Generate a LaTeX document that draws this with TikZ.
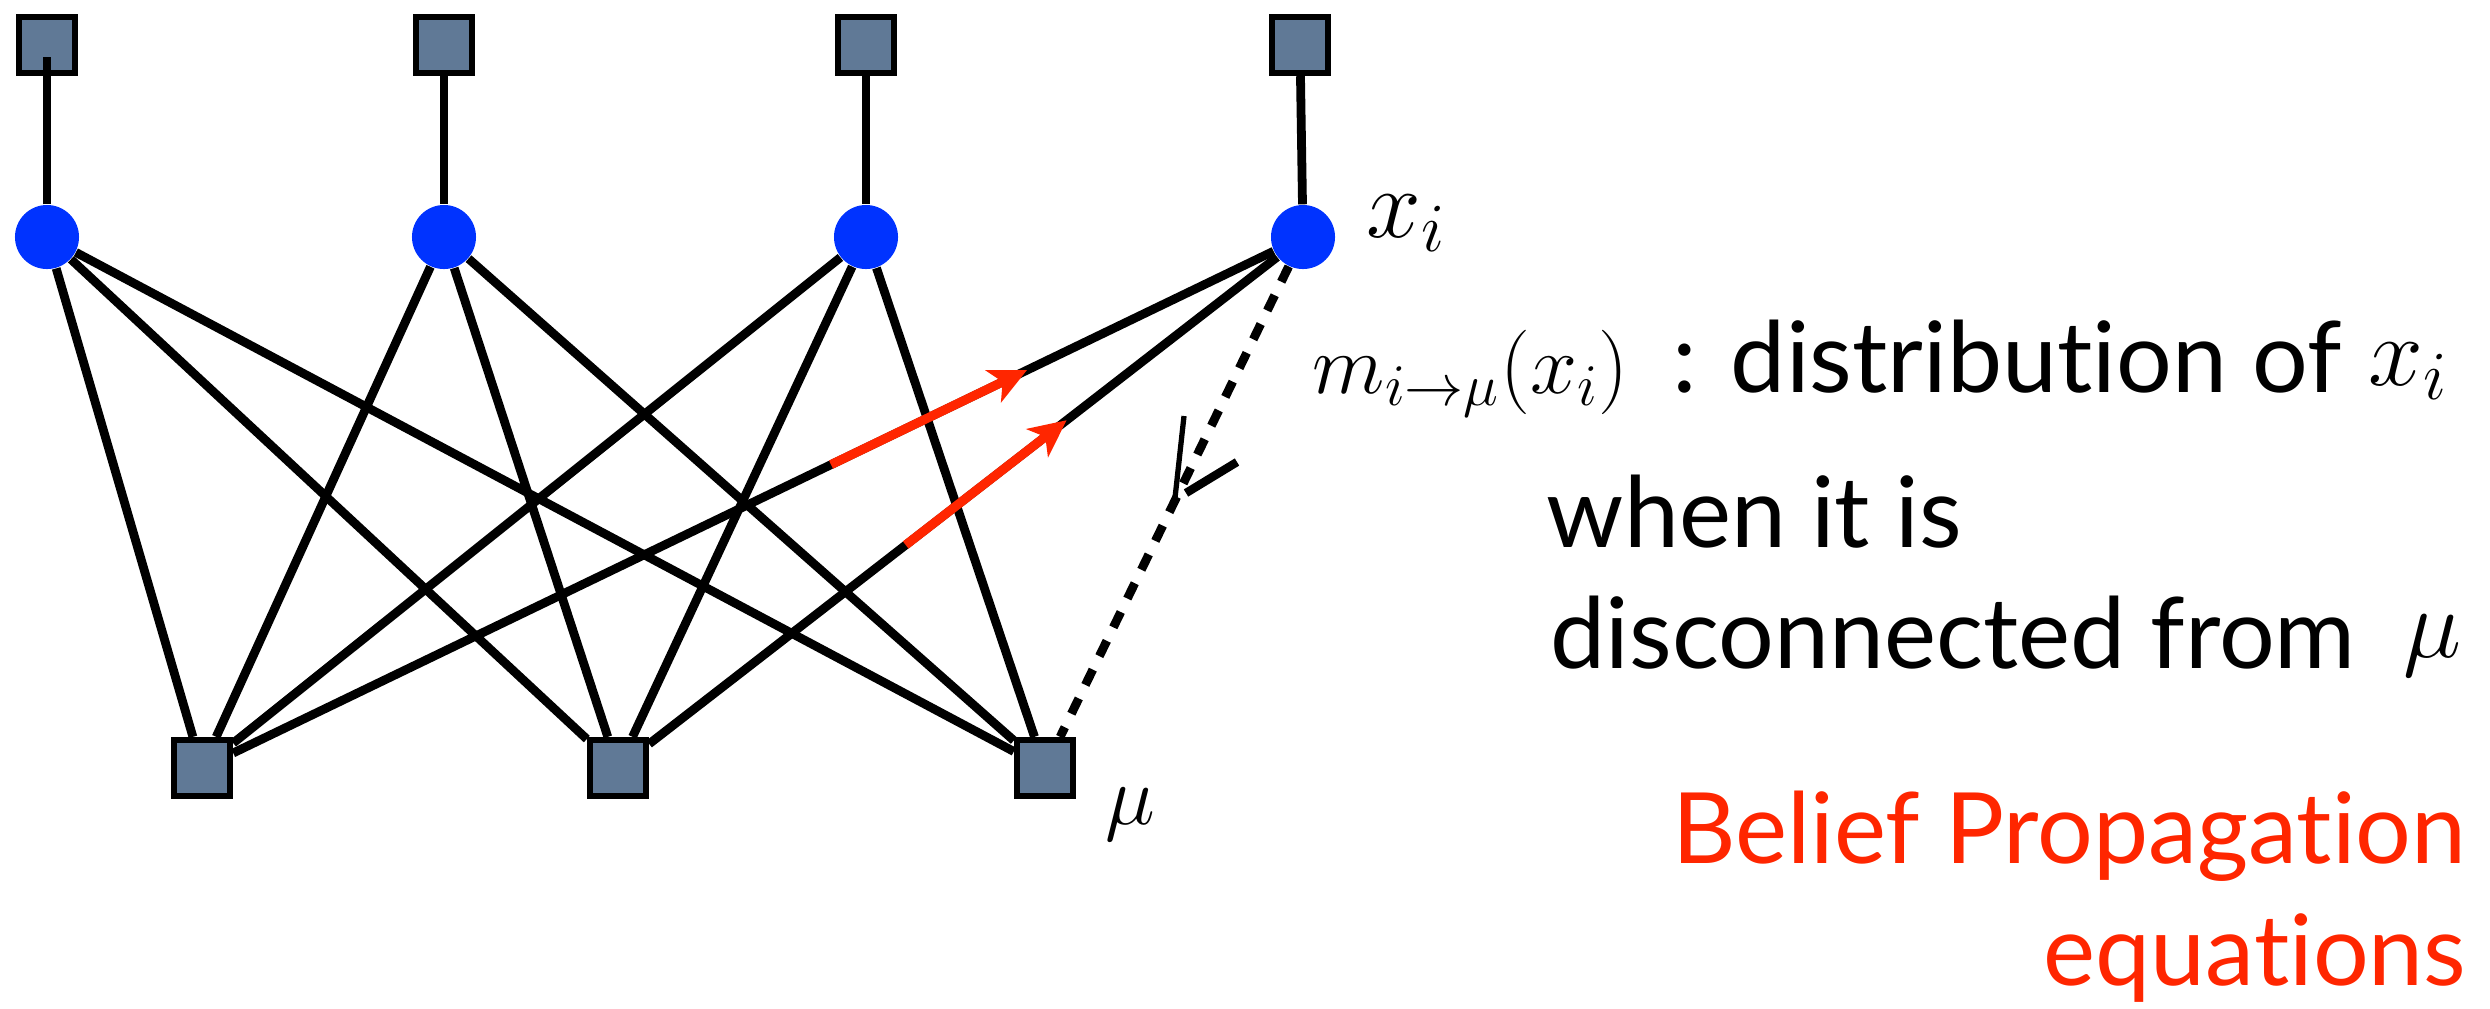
\documentclass[tikz,border=0pt]{standalone}
\usepackage{fix-cm}
\usepackage{fontspec}
\setmainfont{Lato}[Ligatures={NoCommon,NoRare,NoContextual}]
\usetikzlibrary{arrows.meta,calc,backgrounds}
\definecolor{facfill}{RGB}{96,121,150}
\definecolor{varblue}{RGB}{0,51,255}
\definecolor{msgred}{RGB}{255,38,0}
\tikzset{
  facnode/.style={rectangle, draw=black, line width=1.8pt, fill=facfill, minimum size=0.56cm, inner sep=0pt},
  varnode/.style={circle, fill=varblue, minimum size=0.64cm, inner sep=0pt},
  bpline/.style={line width=2.5pt, draw=black},
  cutline/.style={line width=2.5pt, draw=black, dash pattern=on 0.17cm off 0.15cm},
  msgarrow/.style={line width=2.6pt, draw=msgred, -{Stealth[length=0.37cm, width=0.35cm, inset=0.1cm]}},
  mathlbl/.style={inner sep=0pt, font=\fontsize{24}{29}\selectfont},
  bigmath/.style={inner sep=0pt, font=\fontsize{28}{34}\selectfont},
  txt/.style={inner sep=0pt, font=\fontsize{28}{34}\selectfont, text=black},
  redtxt/.style={inner sep=0pt, font=\fontsize{28}{34}\selectfont, text=msgred}
}
\begin{document}
\begin{tikzpicture}[x=0.01cm, y=-0.01cm]
\useasboundingbox (0,0) rectangle (2490,1008);
% top factor nodes
\node[facnode] (t1) at (47,45) {};
\node[facnode] (t2) at (444,45) {};
\node[facnode] (t3) at (866,45) {};
\node[facnode] (t4) at (1300,45) {};
% variable nodes
\node[varnode] (c1) at (47,237) {};
\node[varnode] (c2) at (444,237) {};
\node[varnode] (c3) at (866,237) {};
\node[varnode] (c4) at (1303,237) {};
% bottom factor nodes
\node[facnode] (b1) at (202,768) {};
\node[facnode] (b2) at (618,768) {};
\node[facnode] (b3) at (1045,768) {};

\begin{scope}[on background layer]
  \fill[white] (0,0) rectangle (2490,1008);
  \draw[bpline] (t2) -- (c2);
  \draw[bpline] (t3) -- (c3);
  \draw[bpline] (t4) -- (c4);
  \foreach \c in {c1,c2,c3}{
    \foreach \b in {b1,b2,b3}{
      \draw[bpline] (\c) -- (\b);
    }
  }
  \draw[bpline] (c4) -- (b1);
  \draw[bpline] (c4) -- (b2);
  \draw[cutline] (c4) -- (b3);
\end{scope}
\coordinate (t1in) at ($(t1.center)+(0,12)$);
\draw[bpline] (c1) -- (t1in);

% messages
\draw[msgarrow] ($(c4)!0.4287!(b1)$) -- ($(c4)!0.2507!(b1)$);
\draw[msgarrow] ($(c4)!0.58!(b2)$) -- ($(c4)!0.345!(b2)$);

% cut mark
\draw[line width=1.5pt] (1184,416) -- (1175,498);
\draw[line width=2.4pt] (1186,493) -- (1237,462);

% labels
\node[bigmath, anchor=base west] (xi) at (1366,237) {$x_i$};
\node[mathlbl, anchor=base west] (mu) at (1105,824) {$\mu$};
\node[mathlbl, anchor=base west] (mexpr) at (1312,393) {$m_{i\to\mu}(x_i)$};
\node[txt, anchor=base west] (dist) at (1672,392) {: distribution of};
\node[bigmath, anchor=base west] (xi2) at (2368,385) {$x_i$};
\node[txt, anchor=base west] (when) at (1546,547) {when it is};
\node[txt, anchor=base west] (disc) at (1550,668) {disconnected from};
\node[bigmath, anchor=base west] (mu2) at (2403,657) {$\mu$};
\node[redtxt, anchor=base east] (bp) at (2467,863) {Belief Propagation};
\node[redtxt, anchor=base east] (eq) at (2467,985) {equations};
\end{tikzpicture}
\end{document}
